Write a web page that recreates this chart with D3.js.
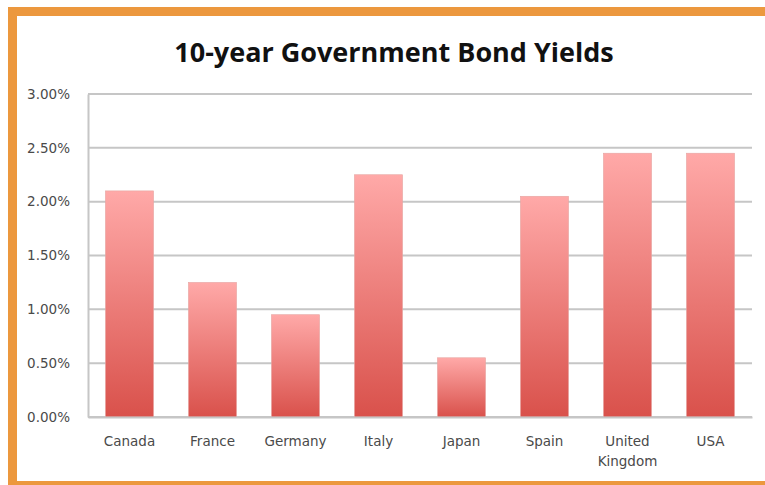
<!DOCTYPE html>
<html lang="en">
<head>
  <meta charset="UTF-8">
  <script src="https://d3js.org/d3.v7.min.js"></script>
  <title>10-year Government Bond Yields</title>
  <style>
    body { margin: 0; background: #fff; }
    .tick text { font-family: "DejaVu Sans", sans-serif; font-size: 13.5px; fill: #4a4a4a; }
    .title { font-family: "Open Sans", sans-serif; font-weight: 700; font-size: 27px; fill: #111; }
  </style>
</head>
<body>
  <svg id="chart" width="765" height="485"></svg>

  <script>
    const countries = ["Canada", "France", "Germany", "Italy", "Japan", "Spain", "United Kingdom", "USA"];
    const yields = [2.10, 1.25, 0.95, 2.25, 0.55, 2.05, 2.45, 2.45];
    const yTicks = [0, 0.5, 1, 1.5, 2, 2.5, 3];

    const width = 765, height = 485;
    const margin = { top: 94, right: 13, bottom: 68, left: 88 };

    const svg = d3.select("#chart");

    // orange frame (top, left, bottom)
    svg.append("rect").attr("x", 8).attr("y", 7).attr("width", width - 8).attr("height", 9).attr("fill", "#ec983e");
    svg.append("rect").attr("x", 8).attr("y", 7).attr("width", 9).attr("height", height - 7).attr("fill", "#ec983e");
    svg.append("rect").attr("x", 8).attr("y", 481).attr("width", width - 8).attr("height", 4).attr("fill", "#ec983e");

    const x = d3.scaleBand()
      .domain(countries)
      .range([margin.left, width - margin.right])
      .paddingInner(0.42)
      .paddingOuter(0.21);

    const y = d3.scaleLinear()
      .domain([0, 3])
      .range([height - margin.bottom, margin.top]);

    // each bar fades from pale pink at its top to red at the bottom
    const defs = svg.append("defs");
    const grad = defs.append("linearGradient")
      .attr("id", "barGrad")
      .attr("x1", 0).attr("x2", 0)
      .attr("y1", 0).attr("y2", 1);
    grad.append("stop").attr("offset", "0%").attr("stop-color", "#ffa9a8");
    grad.append("stop").attr("offset", "100%").attr("stop-color", "#d9514b");

    // gridlines
    svg.append("g")
      .selectAll("line")
      .data(yTicks)
      .join("line")
      .attr("x1", margin.left).attr("x2", width - margin.right)
      .attr("y1", d => y(d)).attr("y2", d => y(d))
      .attr("stroke", "#c6c6c6")
      .attr("stroke-width", 2);

    // y axis
    const yAxis = svg.append("g")
      .attr("transform", `translate(${margin.left},0)`)
      .call(d3.axisLeft(y).tickValues(yTicks).tickFormat(d => d.toFixed(2) + "%").tickSize(0).tickPadding(18));
    yAxis.select(".domain").attr("stroke", "#c6c6c6").attr("stroke-width", 2);

    // bars
    svg.append("g")
      .selectAll("rect")
      .data(countries)
      .join("rect")
      .attr("x", d => x(d))
      .attr("y", (d, i) => y(yields[i]))
      .attr("width", x.bandwidth())
      .attr("height", (d, i) => y(0) - y(yields[i]))
      .attr("fill", "url(#barGrad)")
      .attr("stroke", "#e6a5a2")
      .attr("stroke-width", 0.6);

    // x axis
    const xAxis = svg.append("g")
      .attr("transform", `translate(0,${y(0)})`)
      .call(d3.axisBottom(x).tickSize(0).tickPadding(19));
    xAxis.select(".domain").attr("stroke", "#c6c6c6").attr("stroke-width", 2);
    xAxis.selectAll(".tick text").each(function(d) {
      const t = d3.select(this);
      const words = d.split(" ");
      if (words.length > 1) {
        t.text(null);
        words.forEach((w, i) => {
          t.append("tspan").attr("x", 0).attr("dy", i === 0 ? "0.71em" : "1.5em").text(w);
        });
        t.attr("dy", null);
      }
    });

    svg.append("text")
      .attr("class", "title")
      .attr("x", 394)
      .attr("y", 62)
      .attr("text-anchor", "middle")
      .text("10-year Government Bond Yields");
  </script>
</body>
</html>
